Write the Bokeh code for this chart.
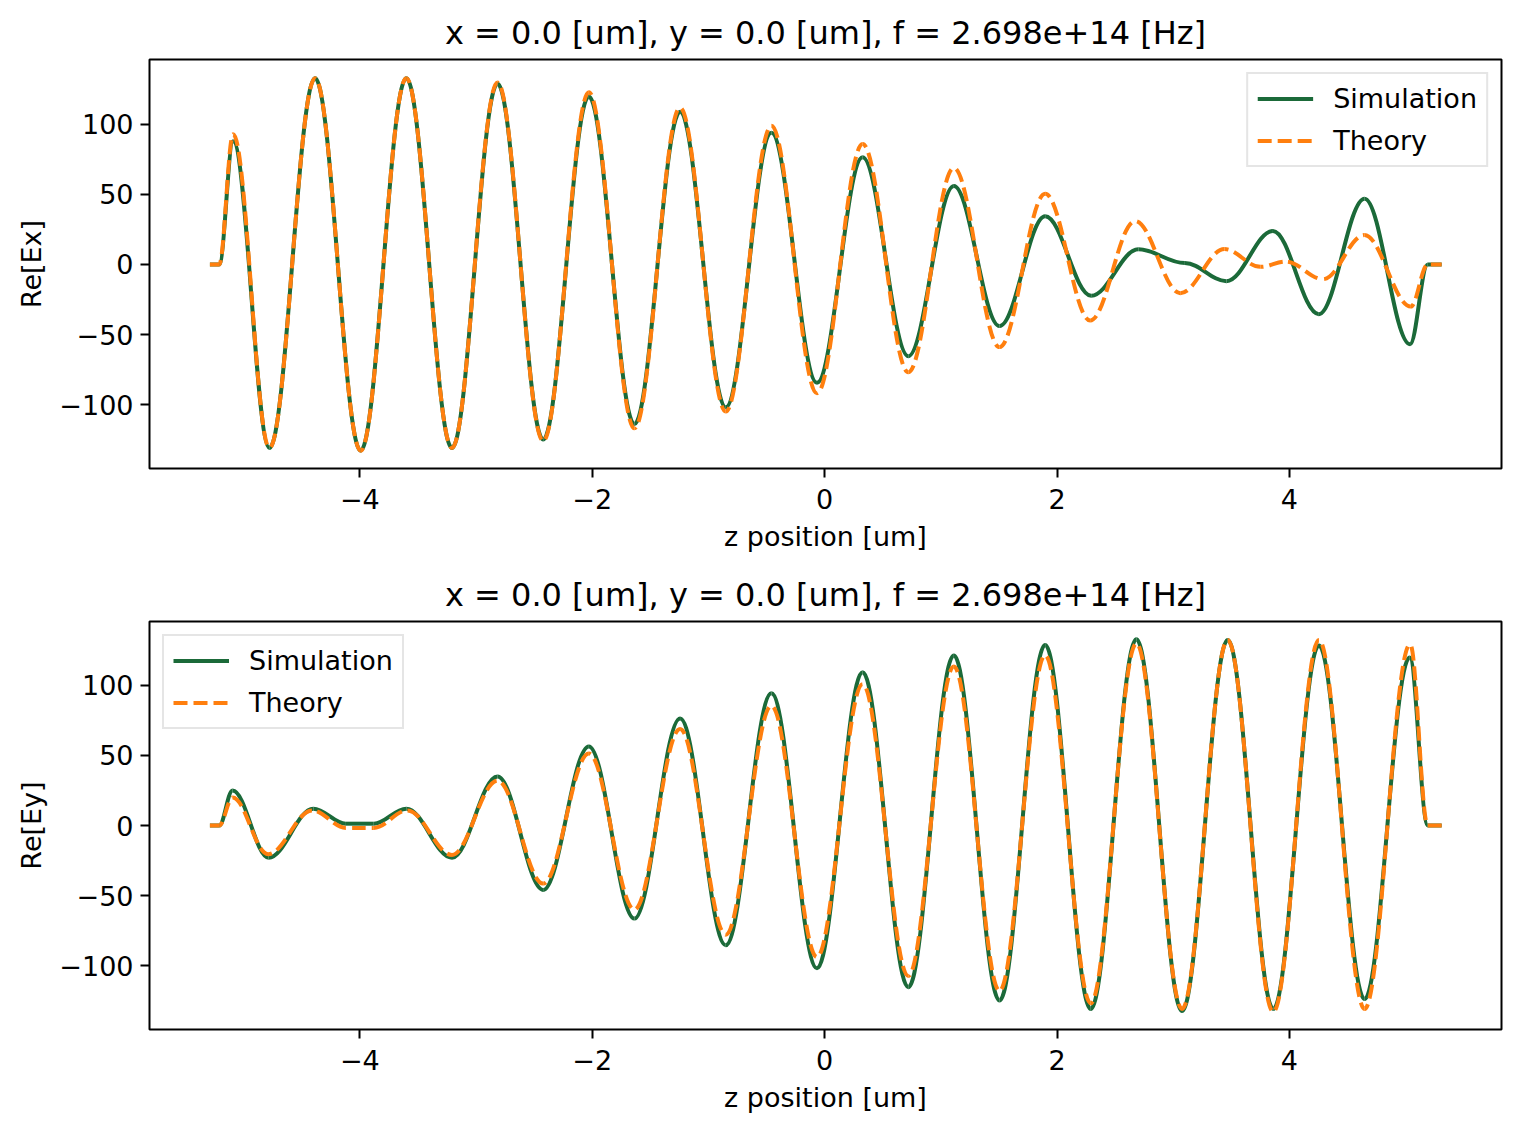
import numpy as np
from bokeh.plotting import figure
from bokeh.models import (Range1d, FixedTicker, CustomJSTickFormatter, Legend,
                          LegendItem, ColumnDataSource)
from bokeh.layouts import column
from bokeh.embed import file_html
from bokeh.resources import INLINE

# ---------------- data ----------------
TITLE = "x = 0.0 [um], y = 0.0 [um], f = 2.698e+14 [Hz]"
X_LABEL = "z position [um]"
Y_LABELS = ["Re[Ex]", "Re[Ey]"]
SERIES = ["Simulation", "Theory"]
X_TICKS = [-4, -2, 0, 2, 4]
Y_TICKS = [-100, -50, 0, 50, 100]

# extrema / turning points of each curve: z position [um] and value
ex_sim_z = [-5.29, -5.21, -5.09, -4.778, -4.385, -3.993, -3.600, -3.207, -2.815, -2.422,
            -2.029, -1.637, -1.244, -0.851, -0.458, -0.066, 0.327, 0.720, 1.112, 1.505,
            1.898, 2.294, 2.700, 3.10, 3.458, 3.858, 4.253, 4.647, 5.038, 5.19, 5.31]
ex_sim_v = [0, 0, 88, -131, 133, -133, 133, -131, 129, -125,
            120, -114, 109, -102, 94, -84.5, 76.5, -65.5, 56, -44,
            34.5, -22.3, 10.8, 1.0, -11.9, 24, -35.5, 47, -57, 0, 0]

ex_th_z = [-5.29, -5.21, -5.09, -4.778, -4.385, -3.993, -3.600, -3.207, -2.815, -2.422,
           -2.029, -1.637, -1.244, -0.851, -0.458, -0.066, 0.327, 0.720, 1.112, 1.505,
           1.898, 2.285, 2.672, 3.060, 3.441, 3.75, 3.97, 4.29, 4.645, 5.045, 5.19, 5.31]
ex_th_v = [0, 0, 93, -131, 133, -133, 133, -131, 130, -126,
           123, -117, 112, -105, 99, -92, 86, -77, 69, -59,
           50.5, -40, 31, -20.5, 11, -1.7, 2.1, -10.5, 21, -30, 0, 0]

ey_sim_z = [-5.29, -5.21, -5.095, -4.785, -4.40, -4.12, -3.88, -3.60, -3.207, -2.815,
            -2.422, -2.029, -1.637, -1.244, -0.851, -0.458, -0.066, 0.327, 0.720, 1.112,
            1.505, 1.898, 2.290, 2.683, 3.076, 3.469, 3.861, 4.254, 4.647, 5.035, 5.19, 5.31]
ey_sim_v = [0, 0, 25, -23, 12, 1.3, 1.3, 12, -23, 35,
            -46, 56.5, -66.5, 76.5, -85.5, 94.5, -102, 109.5, -115.5, 121.5,
            -125, 129, -131, 133, -132.5, 132.5, -131, 128.5, -124, 120, 0, 0]

ey_th_z = [-5.29, -5.21, -5.095, -4.79, -4.41, -4.12, -3.88, -3.59, -3.207, -2.815,
           -2.422, -2.029, -1.637, -1.244, -0.851, -0.458, -0.066, 0.327, 0.720, 1.112,
           1.505, 1.898, 2.290, 2.683, 3.076, 3.469, 3.861, 4.254, 4.647, 5.039, 5.19, 5.31]
ey_th_v = [0, 0, 20, -20.5, 10.8, -1.7, -1.7, 10.8, -21, 32,
           -41.5, 51.5, -60, 69, -78, 85.5, -94, 101, -107.5, 113.5,
           -118, 121.5, -127, 130, -131, 132.5, -133, 132.5, -131, 129.5, 0, 0]

# ---------------- style ----------------
SIM_COLOR = "#1b6a39"
TH_COLOR = "#ff7f0e"
FONT = "DejaVu Sans"
LW = 4
DASH = [14, 6]
X_RANGE = (-5.81, 5.825)
FRAME_W = 1352
K = 1 - 2 / np.pi  # handle length giving sinusoid-like half waves


def bezier_source(z, v, sx, sy, dashed):
    z = np.asarray(z, float)
    v = np.asarray(v, float)
    x0, x1, y0, y1 = z[:-1], z[1:], v[:-1], v[1:]
    dz = x1 - x0
    cx0, cx1 = x0 + K * dz, x1 - K * dz
    cy0, cy1 = y0, y1
    t = np.linspace(0, 1, 80)[:, None]
    bx = (1 - t) ** 3 * x0 + 3 * (1 - t) ** 2 * t * cx0 + 3 * (1 - t) * t ** 2 * cx1 + t ** 3 * x1
    by = (1 - t) ** 3 * y0 + 3 * (1 - t) ** 2 * t * cy0 + 3 * (1 - t) * t ** 2 * cy1 + t ** 3 * y1
    seg = np.sum(np.hypot(np.diff(bx, axis=0) * sx, np.diff(by, axis=0) * sy), axis=0)
    cum = np.concatenate([[0.0], np.cumsum(seg)[:-1]])
    period = sum(DASH)
    off = (np.round(cum) % period).astype(int) if dashed else np.zeros(len(x0), int)
    return ColumnDataSource(dict(x0=x0, y0=y0, x1=x1, y1=y1, cx0=cx0, cy0=cy0,
                                 cx1=cx1, cy1=cy1, off=off))


minus_fmt = "return (tick < 0 ? '\u2212' : '') + Math.abs(tick).toString();"


def make_panel(sim_z, sim_v, th_z, th_v, ylabel, yr, frame_h, top, bottom, legend_loc):
    p = figure(width=10, height=10, frame_width=FRAME_W, frame_height=frame_h,
               x_range=Range1d(*X_RANGE), y_range=Range1d(*yr),
               output_backend="svg", toolbar_location=None,
               min_border_left=149, min_border_right=8,
               min_border_top=top, min_border_bottom=bottom,
               background_fill_color="white", border_fill_color="white")
    p.title.text = TITLE
    p.title.align = "center"
    p.title.text_font = FONT
    p.title.text_font_size = "32px"
    p.title.text_font_style = "normal"
    p.title.text_color = "black"
    p.title.standoff = 16

    p.grid.visible = False
    p.outline_line_color = "black"
    p.outline_line_width = 2
    p.outline_line_alpha = 1

    for ax in (p.xaxis[0], p.yaxis[0]):
        ax.axis_line_color = None
        ax.major_tick_out = 9
        ax.major_tick_in = 0
        ax.major_tick_line_width = 2
        ax.major_tick_line_color = "black"
        ax.minor_tick_line_color = None
        ax.major_label_text_font = FONT
        ax.major_label_text_font_size = "27px"
        ax.major_label_text_color = "black"
        ax.axis_label_text_font = FONT
        ax.axis_label_text_font_size = "27px"
        ax.axis_label_text_font_style = "normal"
        ax.axis_label_text_color = "black"
        ax.formatter = CustomJSTickFormatter(code=minus_fmt)
    p.xaxis[0].ticker = FixedTicker(ticks=X_TICKS)
    p.yaxis[0].ticker = FixedTicker(ticks=Y_TICKS)
    p.xaxis[0].axis_label = X_LABEL
    p.yaxis[0].axis_label = ylabel
    p.xaxis[0].major_label_standoff = 11
    p.yaxis[0].major_label_standoff = 7
    p.xaxis[0].axis_label_standoff = 9
    p.yaxis[0].axis_label_standoff = 9

    sx = FRAME_W / (X_RANGE[1] - X_RANGE[0])
    sy = frame_h / (yr[1] - yr[0])
    s_src = bezier_source(sim_z, sim_v, sx, sy, False)
    t_src = bezier_source(th_z, th_v, sx, sy, True)
    p.bezier(x0="x0", y0="y0", x1="x1", y1="y1", cx0="cx0", cy0="cy0",
             cx1="cx1", cy1="cy1", source=s_src, line_color=SIM_COLOR, line_width=LW)
    p.bezier(x0="x0", y0="y0", x1="x1", y1="y1", cx0="cx0", cy0="cy0",
             cx1="cx1", cy1="cy1", source=t_src, line_color=TH_COLOR, line_width=LW,
             line_dash="14 6", line_dash_offset="off")

    # legend proxies, placed outside the visible range
    far = X_RANGE[1] + 50
    r_sim = p.line([far, far + 1], [0, 0], line_color=SIM_COLOR, line_width=LW)
    r_th = p.line([far, far + 1], [0, 0], line_color=TH_COLOR, line_width=LW,
                  line_dash="14 6")
    legend = Legend(items=[LegendItem(label=SERIES[0], renderers=[r_sim]),
                           LegendItem(label=SERIES[1], renderers=[r_th])],
                    location=legend_loc)
    legend.label_text_font = FONT
    legend.label_text_font_size = "27px"
    legend.label_text_color = "black"
    legend.glyph_width = 56
    legend.glyph_height = 29
    legend.label_height = 29
    legend.label_standoff = 20
    legend.spacing = 11
    legend.padding = 9
    legend.margin = 13
    legend.border_line_color = "#cccccc"
    legend.border_line_width = 2
    legend.background_fill_color = "white"
    legend.background_fill_alpha = 0.8
    p.add_layout(legend)
    return p


p1 = make_panel(ex_sim_z, ex_sim_v, ex_th_z, ex_th_v, Y_LABELS[0], (-145.7, 146.4),
                409, 59, 97, "top_right")
p2 = make_panel(ey_sim_z, ey_sim_v, ey_th_z, ey_th_v, Y_LABELS[1], (-145.7, 145.7),
                408, 56, 96, "top_left")

layout = column(p1, p2)
open("out.html", "w").write(file_html(layout, INLINE))
